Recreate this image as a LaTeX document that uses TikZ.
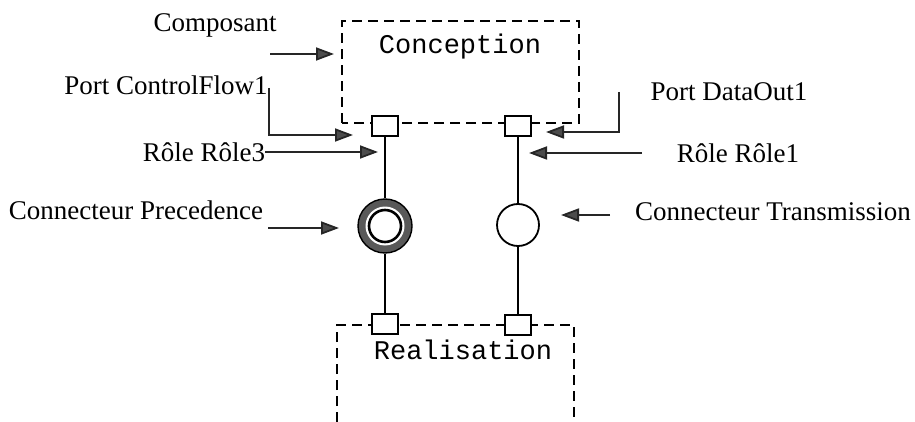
\documentclass[tikz,border=0pt]{standalone}
\usepackage{fontspec}
\setmainfont{Liberation Serif}
\setmonofont{Liberation Mono}
\usetikzlibrary{arrows.meta}
\tikzset{
  lbl/.style={font=\fontsize{27}{30}\selectfont, inner sep=0pt},
  boxtxt/.style={font=\ttfamily\fontsize{27}{30}\selectfont, inner sep=0pt},
  dashbox/.style={line width=2.2pt, dash pattern=on 10pt off 6pt},
  portbox/.style={draw, line width=1.8pt, fill=white, minimum width=26pt, minimum height=20pt, inner sep=0pt},
  wire/.style={line width=1.8pt},
  ptr/.style={line width=1.8pt, draw=black!85, -{Triangle[length=18pt,width=13pt,fill=black!70]}},
}
\begin{document}
\begin{tikzpicture}[x=1pt,y=-1pt]
\useasboundingbox (0,0) rectangle (915,422);
% component boxes
\draw[dashbox] (342,123) -- (342,21) -- (579,21) -- (579,123) -- cycle;
\node[boxtxt] (conc) at (460,47) {Conception};
\draw[dashbox] (337,422) -- (337,325) -- (574,325) -- (574,422);
\node[boxtxt] (real) at (463,350) {Realisation};
% ports
\node[portbox] (p1) at (385,126) {};
\node[portbox] (p2) at (518,126) {};
\node[portbox] (p3) at (385,324) {};
\node[portbox] (p4) at (518,325) {};
% connectors
\node[circle, draw, line width=1.4pt, fill=black!65, minimum size=54pt, inner sep=0pt] (c1) at (385,226) {};
\fill[white] (c1.center) circle (19.5);
\draw[line width=2.6pt] (c1.center) circle (16);
\node[circle, draw, line width=1.8pt, fill=white, minimum size=42pt, inner sep=0pt] (c2) at (518,225) {};
% wires
\draw[wire] (p1.south) -- (c1.north);
\draw[wire] (c1.south) -- (p3.north);
\draw[wire] (p2.south) -- (c2.north);
\draw[wire] (c2.south) -- (p4.north);
% labels
\node[lbl] (lcomp) at (215,25) {Composant};
\coordinate (a1s) at (270,54);
\coordinate (a1e) at (334,54);
\draw[ptr] (a1s) -- (a1e);
\node[lbl] (lpcf) at (166,85) {Port ControlFlow1};
\coordinate (a2s) at (269,88);
\coordinate (a2e) at (353,135);
\draw[ptr] (a2s) |- (a2e);
\node[lbl] (lr3) at (204,152) {Rôle Rôle3};
\coordinate (a3e) at (378,152);
\draw[ptr] (lr3.east) -- (a3e);
\node[lbl] (lcp) at (136,210) {Connecteur Precedence};
\coordinate (a4s) at (268,228);
\coordinate (a4e) at (339,228);
\draw[ptr] (a4s) -- (a4e);
\node[lbl] (lpdo) at (729,92) {Port DataOut1};
\coordinate (a5s) at (619,92);
\coordinate (a5e) at (546,132);
\draw[ptr] (a5s) |- (a5e);
\node[lbl] (lr1) at (738,153) {Rôle Rôle1};
\coordinate (a6s) at (642,153);
\coordinate (a6e) at (529,153);
\draw[ptr] (a6s) -- (a6e);
\node[lbl] (lct) at (773,212) {Connecteur Transmission};
\coordinate (a7s) at (610,215);
\coordinate (a7e) at (561,215);
\draw[ptr] (a7s) -- (a7e);
\end{tikzpicture}
\end{document}
